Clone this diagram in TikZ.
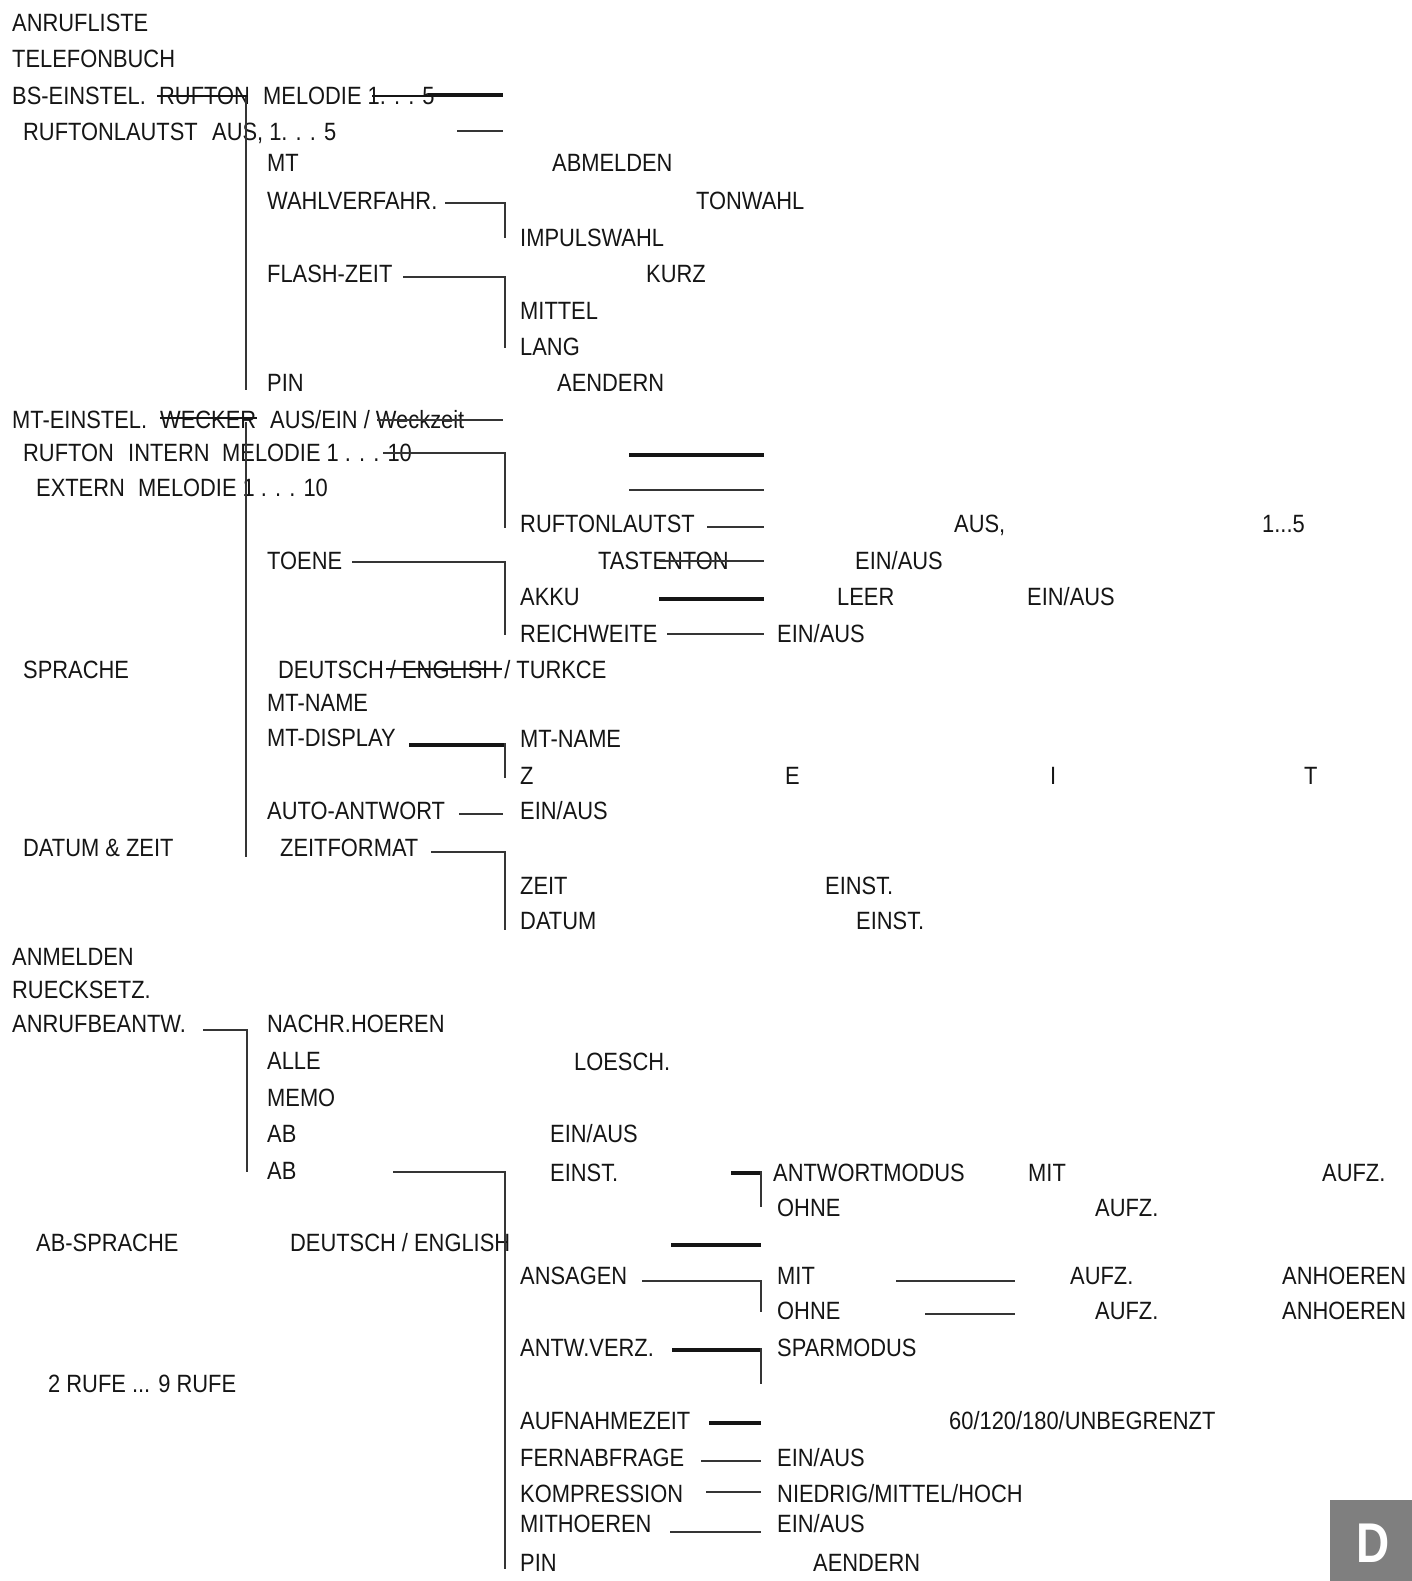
\documentclass[tikz,border=0pt]{standalone}
\usepackage{fontspec}
\setmainfont{Liberation Sans}[FakeStretch=0.875]
\newfontfamily\dfont{Liberation Sans}[FakeStretch=0.82]
\definecolor{ink}{HTML}{151515}
\definecolor{lc}{HTML}{353535}
\definecolor{boxgrey}{HTML}{7F7F7F}
\newcommand{\T}[4]{\node[t] (#1) at (#2,#3) {#4};}
\begin{document}
\begin{tikzpicture}[x=1pt,y=-1pt,
  t/.style={anchor=base west,yshift=-9pt,inner sep=0pt,font=\fontsize{25}{30}\selectfont,text=ink},
  ln/.style={line width=2.6pt,draw=lc,line join=miter},
  tk/.style={line width=4.8pt,draw=ink},
  st/.style={line width=1.9pt,draw=ink}]
\useasboundingbox[fill=white] (0,0) rectangle (1412,1581);
% ---------- texts ----------
\T{n1}{12}{22.5}{ANRUFLISTE}
\T{n2}{12}{59}{TELEFONBUCH}
\T{n3}{12}{96}{BS-EINSTEL.}
\T{n4}{159}{96}{RUFTON}
\T{n5}{263}{96}{MELODIE 1. . . 5}
\T{n6}{23}{132}{RUFTONLAUTST}
\T{n7}{212}{132}{AUS, 1. . . 5}
\T{n8}{267}{163}{MT}
\T{n9}{552}{163}{ABMELDEN}
\T{n10}{267}{200}{WAHLVERFAHR.}
\T{n11}{696}{200}{TONWAHL}
\T{n12}{520}{237}{IMPULSWAHL}
\T{n13}{267}{273}{FLASH-ZEIT}
\T{n14}{646}{273}{KURZ}
\T{n15}{520}{310}{MITTEL}
\T{n16}{520}{346}{LANG}
\T{n17}{267}{382}{PIN}
\T{n18}{557}{382}{AENDERN}
\T{n19}{12}{419}{MT-EINSTEL.}
\T{n20}{160}{419}{WECKER}
\T{n21}{270}{419}{AUS/EIN / Weckzeit}
\T{n22}{23}{452}{RUFTON}
\T{n23}{128}{452}{INTERN}
\T{n24}{222}{452}{MELODIE 1 . . . 10}
\T{n25}{36}{487}{EXTERN}
\T{n26}{138}{487}{MELODIE 1 . . . 10}
\T{n27}{520}{523}{RUFTONLAUTST}
\T{n28}{954}{523}{AUS,}
\T{n29}{1262}{523}{1...5}
\T{n30}{267}{560}{TOENE}
\T{n31}{598}{560}{TASTENTON}
\T{n32}{855}{560}{EIN/AUS}
\T{n33}{520}{596}{AKKU}
\T{n34}{837}{596}{LEER}
\T{n35}{1027}{596}{EIN/AUS}
\T{n36}{520}{633}{REICHWEITE}
\T{n37}{777}{633}{EIN/AUS}
\T{n38}{23}{669}{SPRACHE}
\T{n39}{278}{669}{DEUTSCH / ENGLISH / TURKCE}
\T{n40}{267}{702}{MT-NAME}
\T{n41}{267}{737}{MT-DISPLAY}
\T{n42}{520}{738}{MT-NAME}
\T{n43}{520}{775}{Z}
\T{n44}{785}{775}{E}
\T{n45}{1050}{775}{I}
\T{n46}{1304}{775}{T}
\T{n47}{267}{810}{AUTO-ANTWORT}
\T{n48}{520}{810}{EIN/AUS}
\T{n49}{23}{847}{DATUM \& ZEIT}
\T{n50}{280}{847}{ZEITFORMAT}
\T{n51}{520}{885}{ZEIT}
\T{n52}{825}{885}{EINST.}
\T{n53}{520}{920}{DATUM}
\T{n54}{856}{920}{EINST.}
\T{n55}{12}{956}{ANMELDEN}
\T{n56}{12}{989}{RUECKSETZ.}
\T{n57}{12}{1023}{ANRUFBEANTW.}
\T{n58}{267}{1023}{NACHR.HOEREN}
\T{n59}{267}{1060}{ALLE}
\T{n60}{574}{1061}{LOESCH.}
\T{n61}{267}{1097}{MEMO}
\T{n62}{267}{1133}{AB}
\T{n63}{550}{1133}{EIN/AUS}
\T{n64}{267}{1170}{AB}
\T{n65}{550}{1172}{EINST.}
\T{n66}{773}{1172}{ANTWORTMODUS}
\T{n67}{1028}{1172}{MIT}
\T{n68}{1322}{1172}{AUFZ.}
\T{n69}{777}{1207}{OHNE}
\T{n70}{1095}{1207}{AUFZ.}
\T{n71}{36}{1242}{AB-SPRACHE}
\T{n72}{290}{1242}{DEUTSCH / ENGLISH}
\T{n73}{520}{1275}{ANSAGEN}
\T{n74}{777}{1275}{MIT}
\T{n75}{1070}{1275}{AUFZ.}
\T{n76}{1282}{1275}{ANHOEREN}
\T{n77}{777}{1310}{OHNE}
\T{n78}{1095}{1310}{AUFZ.}
\T{n79}{1282}{1310}{ANHOEREN}
\T{n80}{520}{1347}{ANTW.VERZ.}
\T{n81}{777}{1347}{SPARMODUS}
\T{n82}{48}{1383}{2 RUFE ... 9 RUFE}
\T{n83}{520}{1420}{AUFNAHMEZEIT}
\T{n84}{949}{1420}{60/120/180/UNBEGRENZT}
\T{n85}{520}{1457}{FERNABFRAGE}
\T{n86}{777}{1457}{EIN/AUS}
\T{n87}{520}{1493}{KOMPRESSION}
\T{n88}{777}{1493}{NIEDRIG/MITTEL/HOCH}
\T{n89}{520}{1523}{MITHOEREN}
\T{n90}{777}{1523}{EIN/AUS}
\T{n91}{520}{1562}{PIN}
\T{n92}{813}{1562}{AENDERN}
% ---------- strike-throughs ----------
\draw[st] (157,96) -- (248,96);
\draw[st] (372,96) -- (430,96);
\draw[tk] (428,95) -- (503,95);
\draw[st] (160,418) -- (257,418);
\draw[ln] (377,420) -- (503,420);
\draw[st] (386,669) -- (502,669);
% ---------- connectors ----------
\draw[ln] (457,131) -- (503,131);
\draw[ln] (246,97) -- (246,390);
\draw[ln] (445,203) -- (505,203) -- (505,238);
\draw[ln] (403,277) -- (505,277) -- (505,348);
\draw[ln] (246,422) -- (246,857);
\draw[ln] (383,453) -- (505,453) -- (505,528);
\draw[tk] (629,455) -- (764,455);
\draw[ln] (629,490) -- (764,490);
\draw[ln] (707,527) -- (764,527);
\draw[ln] (352,562) -- (505,562) -- (505,635);
\draw[ln] (659,561) -- (764,561);
\draw[tk] (659,599) -- (764,599);
\draw[ln] (667,634) -- (764,634);
\draw[tk] (409,745) -- (504,745);
\draw[ln] (505,743) -- (505,778);
\draw[ln] (459,814) -- (503,814);
\draw[ln] (431,852) -- (505,852) -- (505,930);
\draw[ln] (203,1030) -- (247,1030) -- (247,1172);
\draw[ln] (393,1172) -- (505,1172) -- (505,1569);
\draw[tk] (731,1173) -- (760,1173);
\draw[ln] (761,1171) -- (761,1207);
\draw[tk] (671,1245) -- (761,1245);
\draw[ln] (642,1281) -- (761,1281) -- (761,1312);
\draw[ln] (896,1281) -- (1015,1281);
\draw[ln] (925,1314) -- (1015,1314);
\draw[tk] (672,1350) -- (760,1350);
\draw[ln] (761,1348) -- (761,1384);
\draw[tk] (709,1423) -- (761,1423);
\draw[ln] (701,1461) -- (761,1461);
\draw[ln] (706,1492) -- (761,1492);
\draw[ln] (670,1532) -- (761,1532);
% ---------- corner badge ----------
\fill[boxgrey] (1330,1500) rectangle (1412,1581);
\node[text=white,inner sep=0pt,font=\dfont\bfseries\fontsize{56}{60}\selectfont] (dbadge) at (1373,1543) {D};
\end{tikzpicture}
\end{document}
